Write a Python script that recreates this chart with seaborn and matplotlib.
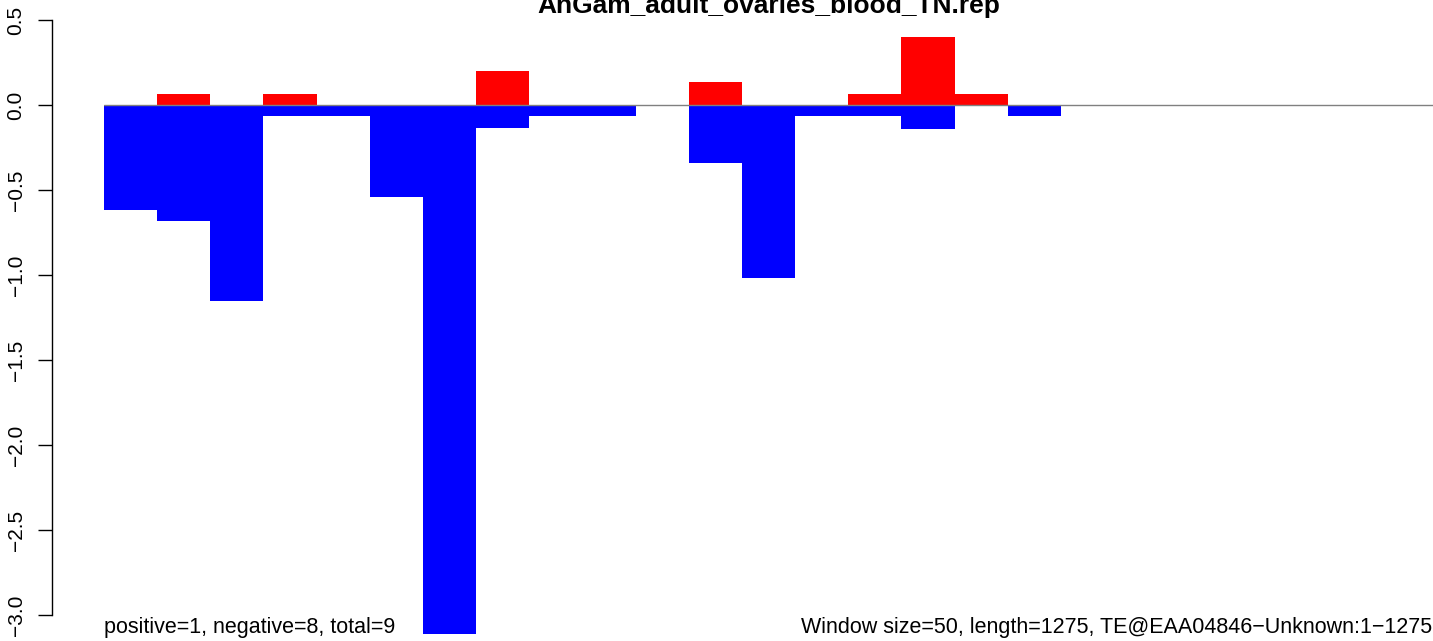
import pandas as pd
import matplotlib
matplotlib.use('Agg')
import matplotlib.pyplot as plt
import seaborn as sns

# window data (window size 50)
windows = list(range(25))
positive = [0, 0.067, 0, 0.067, 0, 0, 0, 0.2, 0, 0, 0, 0.133, 0, 0, 0.067, 0.4, 0.067, 0,
            0, 0, 0, 0, 0, 0, 0]
negative = [-0.617, -0.683, -1.15, -0.067, -0.067, -0.54, -3.11, -0.133, -0.067, -0.067, 0,
            -0.34, -1.017, -0.067, -0.067, -0.14, 0, -0.067,
            0, 0, 0, 0, 0, 0, 0]
yticks = [0.5, 0.0, -0.5, -1.0, -1.5, -2.0, -2.5, -3.0]

title = 'AnGam_adult_ovaries_blood_TN.rep'
left_note = 'positive=1, negative=8, total=9'
right_note = 'Window size=50, length=1275, TE@EAA04846\u2212Unknown:1\u22121275'

df = pd.DataFrame({'window': windows, 'positive': positive, 'negative': negative})

sns.set_style('ticks')
plt.rcParams['font.family'] = ['Liberation Sans', 'DejaVu Sans']
plt.rcParams['text.color'] = 'black'
plt.rcParams['ytick.color'] = 'black'
plt.rcParams['ytick.labelcolor'] = 'black'

W, H = 1433, 641
fig = plt.figure(figsize=(W / 100, H / 100), dpi=100)
ax = fig.add_axes([104 / W, 0, 1 - 104 / W, 1])

sns.barplot(data=df, x='window', y='positive', order=windows, color='red',
            width=1, saturation=1, ax=ax)
sns.barplot(data=df, x='window', y='negative', order=windows, color='blue',
            width=1, saturation=1, ax=ax)
for p in ax.patches:
    p.set_linewidth(0)

ax.axhline(0, color='gray', lw=1.0, zorder=5)
ax.set_xlim(-0.5, len(windows) - 0.5)
# one unit = 170 px, zero line at y=105 px
ax.set_ylim(-(H - 105) / 170, 105 / 170)

ax.set_xlabel('')
ax.set_ylabel('')
ax.set_xticks([])
for s in ['top', 'right', 'bottom']:
    ax.spines[s].set_visible(False)
ax.spines['left'].set_position(('outward', 52 * 0.72))
ax.spines['left'].set_bounds(-3.0, 0.5)
ax.spines['left'].set_linewidth(1)
ax.spines['left'].set_color('black')
ax.set_yticks(yticks)
ax.set_yticklabels([f'{v:.1f}'.replace('-', '\u2212') for v in yticks],
                   rotation=90, va='center', fontsize=15, color='black')
ax.tick_params(axis='y', length=10, width=1, pad=9, color='black')

fig.text((104 + W) / 2 / W, 1 - 13 / H, title, ha='center', va='baseline',
         fontsize=19, fontweight='bold', color='black')
fig.text(104 / W, 1 - 633 / H, left_note, ha='left', va='baseline', fontsize=15.5,
         color='black')
fig.text(1.0 - 1 / W, 1 - 633 / H, right_note, ha='right', va='baseline', fontsize=15.5,
         color='black')

fig.savefig('out.png', dpi=100)
